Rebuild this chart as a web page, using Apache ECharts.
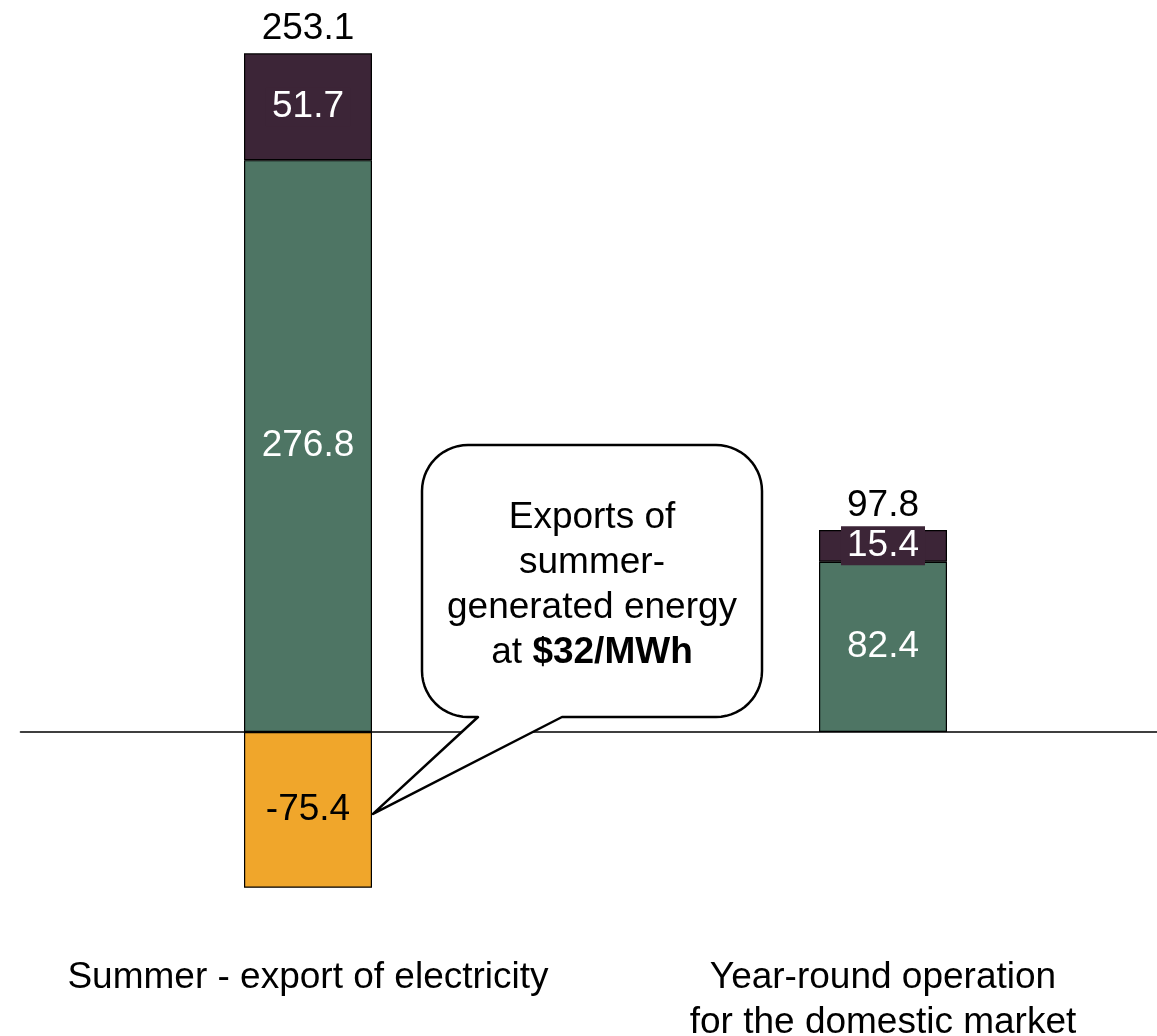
<!DOCTYPE html>
<html>
<head>
<meta charset="utf-8">
<script src="https://cdn.jsdelivr.net/npm/echarts@6/dist/echarts.min.js"></script>
<style>
  html, body { margin: 0; padding: 0; background: #fff; }
  #chart { width: 1157px; height: 1036px; }
</style>
</head>
<body>
<div id="chart"></div>
<script>
// Scenario categories
const categories = ['Summer - export of electricity', 'Year-round operation\nfor the domestic market'];
// Stacked components
const baseValues = [276.8, 82.4];
const upperValues = [51.7, 15.4];
const exportValues = [-75.4, null];
// Net totals shown above each column
const totals = [253.1, 97.8];

const FONT = '"Liberation Sans", Arial, Helvetica, sans-serif';
const FS = 37;
const GREEN = '#4e7564';
const PLUM = '#3c2537';
const AMBER = '#f0a62b';

const chart = echarts.init(document.getElementById('chart'));

const positiveTops = baseValues.map((v, i) => v + upperValues[i]);

chart.setOption({
  animation: false,
  grid: { left: 20.5, right: -13.5, top: 29.56, bottom: 97.4, outerBoundsMode: 'none', containLabel: false },
  xAxis: [
    {
      // zero baseline
      type: 'category',
      data: categories,
      axisLine: { onZero: true, lineStyle: { color: '#000', width: 1.6 } },
      axisTick: { show: false },
      axisLabel: { show: false }
    },
    {
      // category names under the plot
      type: 'category',
      position: 'bottom',
      data: categories,
      axisLine: { show: false, onZero: false },
      axisTick: { show: false },
      axisLabel: {
        interval: 0, margin: 17, fontSize: FS, lineHeight: 45,
        color: '#000', fontFamily: FONT, verticalAlign: 'top'
      }
    }
  ],
  yAxis: {
    type: 'value', min: -100, max: 340,
    show: false, splitLine: { show: false }
  },
  series: [
    {
      name: 'base', type: 'bar', stack: 'total', barWidth: 128,
      data: baseValues,
      itemStyle: { color: GREEN, borderColor: '#000', borderWidth: 1.2 },
      label: { show: true, position: 'inside', color: '#fff', fontSize: FS, fontFamily: FONT }
    },
    {
      name: 'upper', type: 'bar', stack: 'total', barWidth: 128,
      data: upperValues,
      itemStyle: { color: PLUM, borderColor: '#000', borderWidth: 1.2 },
      label: {
        show: true, position: 'inside', color: '#fff', fontSize: FS, fontFamily: FONT,
        backgroundColor: PLUM, padding: [2, 6, 1, 6], lineHeight: 36
      }
    },
    {
      name: 'export', type: 'bar', stack: 'total', barWidth: 128,
      data: exportValues,
      itemStyle: { color: AMBER, borderColor: '#000', borderWidth: 1.2 },
      label: { show: true, position: 'inside', color: '#000', fontSize: FS, fontFamily: FONT }
    },
    {
      name: 'total', type: 'scatter', symbolSize: 0,
      data: positiveTops,
      itemStyle: { opacity: 1 },
      label: {
        show: true, position: 'top', distance: 6, color: '#000', fontSize: FS, fontFamily: FONT,
        formatter: p => totals[p.dataIndex].toFixed(1)
      },
      z: 5
    }
  ]
});

// Speech-bubble annotation pointing at the export segment
const barHalf = 64;
const tipX = chart.convertToPixel({ xAxisIndex: 0 }, 0) + barHalf + 1;
const tipY = chart.convertToPixel({ yAxisIndex: 0 }, exportValues[0] / 2) + 4;

const bx0 = 422, by0 = 445, bx1 = 762, by1 = 717, r = 46;
const baseL = 478, baseR = 562;

function arc(cx, cy, a0, a1, pts) {
  const n = 14;
  for (let k = 0; k <= n; k++) {
    const a = a0 + (a1 - a0) * k / n;
    pts.push([cx + r * Math.cos(a), cy + r * Math.sin(a)]);
  }
}
const pts = [];
arc(bx0 + r, by0 + r, Math.PI, Math.PI * 1.5, pts);
arc(bx1 - r, by0 + r, Math.PI * 1.5, Math.PI * 2, pts);
arc(bx1 - r, by1 - r, 0, Math.PI * 0.5, pts);
pts.push([baseR, by1], [tipX, tipY], [baseL, by1]);
arc(bx0 + r, by1 - r, Math.PI * 0.5, Math.PI, pts);

chart.setOption({
  graphic: [
    {
      type: 'polygon', z: 10,
      shape: { points: pts },
      style: { fill: '#fff', stroke: '#000', lineWidth: 2.5, lineJoin: 'round' }
    },
    {
      type: 'text', z: 11,
      x: (bx0 + bx1) / 2, y: 585,
      style: {
        text: '{n|Exports of}\n{n|summer-}\n{n|generated energy}\n{n|at }{b|$32/MWh}',
        align: 'center', verticalAlign: 'middle',
        fill: '#000', fontSize: FS, fontFamily: FONT,
        rich: {
          n: { fontSize: FS, fontFamily: FONT, lineHeight: 45, fill: '#000' },
          b: { fontSize: FS, fontFamily: FONT, lineHeight: 45, fontWeight: 'bold', fill: '#000' }
        }
      }
    }
  ]
});
</script>
</body>
</html>
